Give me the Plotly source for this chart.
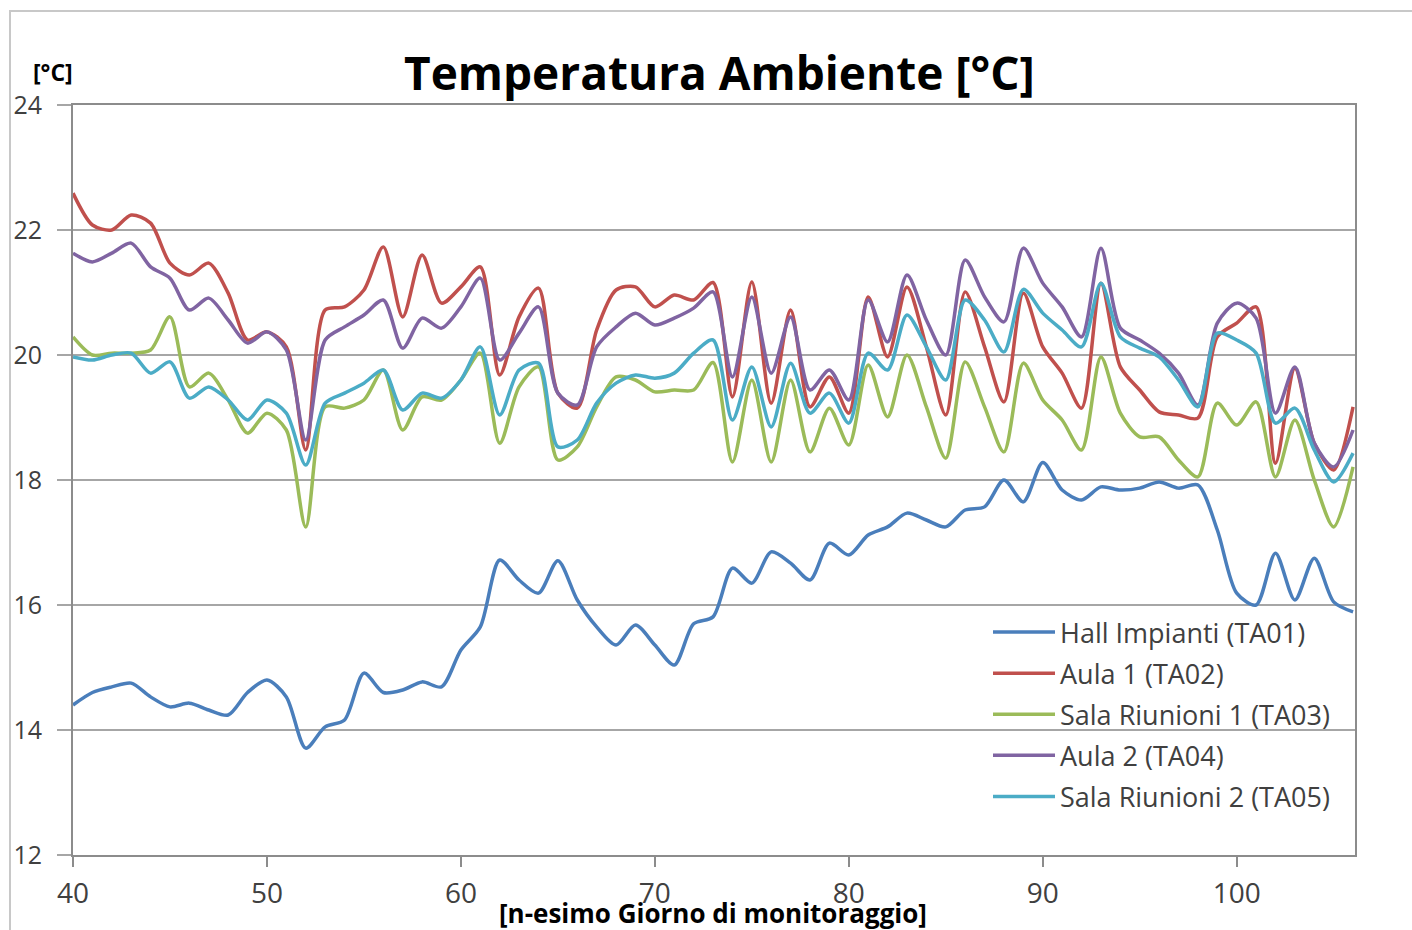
import plotly.graph_objects as go

days = list(range(40, 107))

ta01 = [14.40, 14.60, 14.69, 14.75, 14.53, 14.37, 14.43, 14.32, 14.24, 14.60,
        14.80, 14.53, 13.71, 14.05, 14.16, 14.91, 14.60, 14.64, 14.77, 14.69,
        15.28, 15.65, 16.72, 16.40, 16.19, 16.71, 16.08, 15.65, 15.36, 15.68,
        15.36, 15.04, 15.70, 15.81, 16.59, 16.35, 16.85, 16.67, 16.40, 16.99,
        16.80, 17.12, 17.25, 17.47, 17.36, 17.25, 17.52, 17.57, 18.00, 17.65,
        18.28, 17.84, 17.68, 17.89, 17.84, 17.87, 17.97, 17.87, 17.92, 17.20,
        16.19, 16.00, 16.83, 16.08, 16.75, 16.05, 15.89]

ta02 = [22.59, 22.08, 22.00, 22.24, 22.11, 21.47, 21.28, 21.47, 20.99, 20.24,
        20.37, 20.13, 18.48, 20.72, 20.77, 21.04, 21.73, 20.61, 21.60, 20.83,
        21.09, 21.41, 19.68, 20.61, 21.07, 19.39, 19.15, 20.40, 21.04, 21.09,
        20.77, 20.96, 20.88, 21.16, 19.33, 21.17, 19.23, 20.72, 19.17, 19.65,
        19.07, 20.93, 19.97, 21.09, 20.13, 19.04, 21.01, 20.13, 19.25, 20.99,
        20.13, 19.71, 19.15, 21.15, 19.81, 19.44, 19.09, 19.04, 18.99, 20.29,
        20.51, 20.77, 18.27, 19.79, 18.59, 18.16, 19.17]

ta03 = [20.29, 20.00, 20.03, 20.03, 20.08, 20.61, 19.49, 19.71, 19.28, 18.75,
        19.07, 18.80, 17.25, 19.17, 19.15, 19.28, 19.76, 18.80, 19.33, 19.28,
        19.60, 20.03, 18.59, 19.49, 19.81, 18.32, 18.53, 19.17, 19.65, 19.60,
        19.41, 19.44, 19.44, 19.88, 18.29, 19.60, 18.29, 19.60, 18.45, 19.15,
        18.56, 19.84, 19.01, 20.00, 19.17, 18.35, 19.89, 19.17, 18.45, 19.87,
        19.28, 18.96, 18.48, 19.97, 19.07, 18.69, 18.69, 18.32, 18.05, 19.23,
        18.88, 19.25, 18.05, 18.96, 18.00, 17.25, 18.21]

ta04 = [21.63, 21.49, 21.63, 21.79, 21.41, 21.23, 20.72, 20.91, 20.56, 20.19,
        20.37, 20.08, 18.64, 20.24, 20.45, 20.64, 20.88, 20.11, 20.59, 20.43,
        20.77, 21.23, 19.92, 20.35, 20.77, 19.39, 19.20, 20.13, 20.45, 20.67,
        20.48, 20.59, 20.75, 21.01, 19.65, 20.93, 19.71, 20.61, 19.44, 19.76,
        19.28, 20.88, 20.21, 21.28, 20.56, 20.00, 21.52, 20.93, 20.53, 21.71,
        21.15, 20.77, 20.29, 21.71, 20.43, 20.24, 20.03, 19.71, 19.20, 20.51,
        20.83, 20.59, 19.07, 19.81, 18.59, 18.21, 18.80]

ta05 = [19.97, 19.92, 20.00, 20.03, 19.71, 19.89, 19.31, 19.49, 19.28, 18.96,
        19.28, 19.07, 18.24, 19.23, 19.39, 19.55, 19.76, 19.12, 19.39, 19.31,
        19.60, 20.13, 19.04, 19.76, 19.87, 18.53, 18.64, 19.23, 19.55, 19.68,
        19.63, 19.71, 20.03, 20.24, 18.96, 19.81, 18.85, 19.87, 19.07, 19.39,
        18.91, 20.03, 19.76, 20.64, 20.13, 19.60, 20.88, 20.56, 20.05, 21.05,
        20.67, 20.40, 20.13, 21.15, 20.29, 20.11, 19.97, 19.60, 19.17, 20.35,
        20.24, 20.03, 18.91, 19.15, 18.48, 17.97, 18.43]

series_names = ["Hall Impianti (TA01)", "Aula 1 (TA02)", "Sala Riunioni 1 (TA03)",
                "Aula 2 (TA04)", "Sala Riunioni 2 (TA05)"]
series_values = [ta01, ta02, ta03, ta04, ta05]
series_colors = ["#4A7EBB", "#C0504D", "#9BBB59", "#8064A2", "#4BACC6"]

x_ticks = [40, 50, 60, 70, 80, 90, 100]
y_ticks = [12, 14, 16, 18, 20, 22, 24]

FONT = "'Open Sans', Lato, sans-serif"

fig = go.Figure()
for name, vals, col in zip(series_names, series_values, series_colors):
    fig.add_trace(go.Scatter(
        x=days, y=vals, name=name, mode="lines",
        line=dict(color=col, width=3.5, shape="spline", smoothing=0.8),
        legendgroup=name,
    ))

# plot area: left 73, right 1355, top 105, bottom 855
L, R, T, B = 73, 1355, 105, 855
W, H = 1412, 930
pw, ph = R - L, B - T

def px(x):
    return (x - L) / pw

def py(y):
    return (B - y) / ph

fig.update_layout(
    width=W, height=H,
    margin=dict(l=L, r=W - R, t=T, b=H - B, pad=0),
    paper_bgcolor="white", plot_bgcolor="white",
    font=dict(family=FONT, color="#404040"),
    showlegend=True,
    legend=dict(
        x=px(988), y=py(608), xanchor="left", yanchor="top",
        bgcolor="rgba(0,0,0,0)", borderwidth=0,
        font=dict(size=27, color="#404040", family=FONT),
        tracegroupgap=3, itemwidth=62,
    ),
    xaxis=dict(
        range=[40, 106.1], tickmode="array", tickvals=x_ticks,
        showgrid=False, zeroline=False,
        showline=True, linecolor="#8C8C8C", linewidth=2, mirror=True,
        ticks="outside", ticklen=10, tickcolor="#8C8C8C", tickwidth=1.5,
        ticklabelstandoff=2,
        tickfont=dict(size=28, color="#404040", family=FONT),
    ),
    yaxis=dict(
        range=[12, 24], tickmode="array", tickvals=y_ticks,
        showgrid=True, gridcolor="#A6A6A6", gridwidth=2, zeroline=False,
        showline=True, linecolor="#8C8C8C", linewidth=2, mirror=True,
        ticks="outside", ticklen=14, tickcolor="#A6A6A6", tickwidth=2,
        ticklabelstandoff=10,
        tickfont=dict(size=25, color="#404040", family=FONT),
    ),
    annotations=[
        dict(text="<b>Temperatura Ambiente [°C]</b>", x=px(719), y=py(72),
             xref="paper", yref="paper", xanchor="center", yanchor="middle",
             showarrow=False, font=dict(size=46, color="#000000", family=FONT)),
        dict(text="<b>[°C]</b>", x=px(53), y=py(72),
             xref="paper", yref="paper", xanchor="center", yanchor="middle",
             showarrow=False, font=dict(size=23, color="#000000", family=FONT)),
        dict(text="<b>[n-esimo Giorno di monitoraggio]</b>", x=px(713), y=py(913),
             xref="paper", yref="paper", xanchor="center", yanchor="middle",
             showarrow=False, font=dict(size=26, color="#000000", family=FONT)),
    ],
    shapes=[
        dict(type="rect", xref="paper", yref="paper",
             x0=px(10), x1=px(1430), y0=py(950), y1=py(11),
             line=dict(color="#C8C8C8", width=2), fillcolor="rgba(0,0,0,0)",
             layer="below"),
    ],
)

fig.write_html("out.html", config={"displayModeBar": False},
               post_script="document.body.style.margin='0';")
